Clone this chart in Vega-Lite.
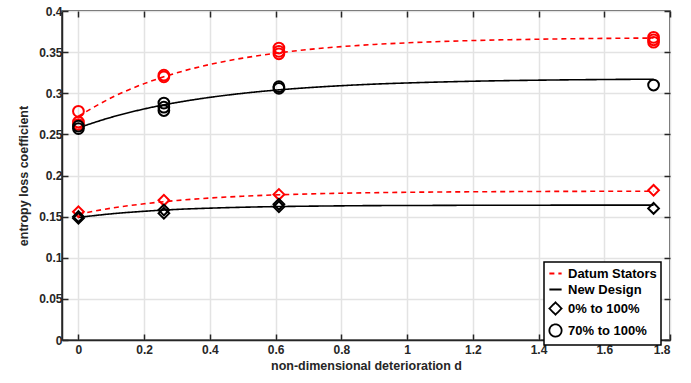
{
  "$schema": "https://vega.github.io/schema/vega-lite/v6.json",
  "autosize": "none",
  "width": 608,
  "height": 329,
  "padding": {"left": 62, "top": 11, "right": 21, "bottom": 43},
  "background": "white",
  "config": {
    "font": "Liberation Sans",
    "view": {"stroke": "#262626", "strokeWidth": 1.5},
    "axis": {
      "labelFont": "Liberation Sans",
      "labelFontWeight": "bold",
      "labelFontSize": 12,
      "labelColor": "#262626",
      "titleFont": "Liberation Sans",
      "titleFontWeight": "bold",
      "titleFontSize": 12.5,
      "titleColor": "#262626",
      "domainColor": "#262626",
      "domainWidth": 1.5,
      "tickColor": "#262626",
      "tickWidth": 1.5,
      "tickSize": -6,
      "gridColor": "#e3e3e3",
      "gridWidth": 1.5,
      "format": "~g"
    },
    "legend": {
      "labelFont": "Liberation Sans",
      "labelFontWeight": "bold",
      "labelFontSize": 13,
      "labelColor": "#000000",
      "strokeColor": "#000000",
      "strokeWidth": 1.5,
      "fillColor": "white",
      "padding": 4,
      "rowPadding": 1,
      "labelOffset": 5,
      "symbolStrokeWidth": 1.8,
      "symbolSize": 150
    }
  },
  "datasets": {
    "fits": [
      {"d": 0, "v": 0.272, "key": "Datum Stators", "range": "70% to 100%"},
      {"d": 0.1, "v": 0.2945, "key": "Datum Stators", "range": "70% to 100%"},
      {"d": 0.2, "v": 0.3117, "key": "Datum Stators", "range": "70% to 100%"},
      {"d": 0.3, "v": 0.3249, "key": "Datum Stators", "range": "70% to 100%"},
      {"d": 0.4, "v": 0.335, "key": "Datum Stators", "range": "70% to 100%"},
      {"d": 0.5, "v": 0.3427, "key": "Datum Stators", "range": "70% to 100%"},
      {"d": 0.6, "v": 0.3486, "key": "Datum Stators", "range": "70% to 100%"},
      {"d": 0.7, "v": 0.3532, "key": "Datum Stators", "range": "70% to 100%"},
      {"d": 0.8, "v": 0.3567, "key": "Datum Stators", "range": "70% to 100%"},
      {"d": 0.9, "v": 0.3593, "key": "Datum Stators", "range": "70% to 100%"},
      {"d": 1.0, "v": 0.3613, "key": "Datum Stators", "range": "70% to 100%"},
      {"d": 1.2, "v": 0.3641, "key": "Datum Stators", "range": "70% to 100%"},
      {"d": 1.4, "v": 0.3657, "key": "Datum Stators", "range": "70% to 100%"},
      {"d": 1.6, "v": 0.3667, "key": "Datum Stators", "range": "70% to 100%"},
      {"d": 1.75, "v": 0.3671, "key": "Datum Stators", "range": "70% to 100%"},

      {"d": 0, "v": 0.258, "key": "New Design", "range": "70% to 100%"},
      {"d": 0.1, "v": 0.2708, "key": "New Design", "range": "70% to 100%"},
      {"d": 0.2, "v": 0.2809, "key": "New Design", "range": "70% to 100%"},
      {"d": 0.3, "v": 0.2888, "key": "New Design", "range": "70% to 100%"},
      {"d": 0.4, "v": 0.295, "key": "New Design", "range": "70% to 100%"},
      {"d": 0.5, "v": 0.2999, "key": "New Design", "range": "70% to 100%"},
      {"d": 0.6, "v": 0.3038, "key": "New Design", "range": "70% to 100%"},
      {"d": 0.7, "v": 0.3068, "key": "New Design", "range": "70% to 100%"},
      {"d": 0.8, "v": 0.3092, "key": "New Design", "range": "70% to 100%"},
      {"d": 0.9, "v": 0.3111, "key": "New Design", "range": "70% to 100%"},
      {"d": 1.0, "v": 0.3125, "key": "New Design", "range": "70% to 100%"},
      {"d": 1.2, "v": 0.3146, "key": "New Design", "range": "70% to 100%"},
      {"d": 1.4, "v": 0.3159, "key": "New Design", "range": "70% to 100%"},
      {"d": 1.6, "v": 0.3167, "key": "New Design", "range": "70% to 100%"},
      {"d": 1.75, "v": 0.3171, "key": "New Design", "range": "70% to 100%"},

      {"d": 0, "v": 0.153, "key": "Datum Stators", "range": "0% to 100%"},
      {"d": 0.1, "v": 0.1603, "key": "Datum Stators", "range": "0% to 100%"},
      {"d": 0.2, "v": 0.1656, "key": "Datum Stators", "range": "0% to 100%"},
      {"d": 0.3, "v": 0.1696, "key": "Datum Stators", "range": "0% to 100%"},
      {"d": 0.4, "v": 0.1726, "key": "Datum Stators", "range": "0% to 100%"},
      {"d": 0.5, "v": 0.1748, "key": "Datum Stators", "range": "0% to 100%"},
      {"d": 0.6, "v": 0.1764, "key": "Datum Stators", "range": "0% to 100%"},
      {"d": 0.7, "v": 0.1776, "key": "Datum Stators", "range": "0% to 100%"},
      {"d": 0.8, "v": 0.1785, "key": "Datum Stators", "range": "0% to 100%"},
      {"d": 0.9, "v": 0.1791, "key": "Datum Stators", "range": "0% to 100%"},
      {"d": 1.0, "v": 0.1796, "key": "Datum Stators", "range": "0% to 100%"},
      {"d": 1.2, "v": 0.1802, "key": "Datum Stators", "range": "0% to 100%"},
      {"d": 1.4, "v": 0.1806, "key": "Datum Stators", "range": "0% to 100%"},
      {"d": 1.6, "v": 0.1808, "key": "Datum Stators", "range": "0% to 100%"},
      {"d": 1.75, "v": 0.1809, "key": "Datum Stators", "range": "0% to 100%"},

      {"d": 0, "v": 0.149, "key": "New Design", "range": "0% to 100%"},
      {"d": 0.1, "v": 0.1534, "key": "New Design", "range": "0% to 100%"},
      {"d": 0.2, "v": 0.1565, "key": "New Design", "range": "0% to 100%"},
      {"d": 0.3, "v": 0.1588, "key": "New Design", "range": "0% to 100%"},
      {"d": 0.4, "v": 0.1603, "key": "New Design", "range": "0% to 100%"},
      {"d": 0.5, "v": 0.1614, "key": "New Design", "range": "0% to 100%"},
      {"d": 0.6, "v": 0.1622, "key": "New Design", "range": "0% to 100%"},
      {"d": 0.7, "v": 0.1627, "key": "New Design", "range": "0% to 100%"},
      {"d": 0.8, "v": 0.1631, "key": "New Design", "range": "0% to 100%"},
      {"d": 0.9, "v": 0.1634, "key": "New Design", "range": "0% to 100%"},
      {"d": 1.0, "v": 0.1635, "key": "New Design", "range": "0% to 100%"},
      {"d": 1.2, "v": 0.1638, "key": "New Design", "range": "0% to 100%"},
      {"d": 1.4, "v": 0.1639, "key": "New Design", "range": "0% to 100%"},
      {"d": 1.6, "v": 0.164, "key": "New Design", "range": "0% to 100%"},
      {"d": 1.75, "v": 0.164, "key": "New Design", "range": "0% to 100%"}
    ],
    "obs": [
      {"d": 0, "v": 0.278, "series": "Datum Stators", "key": "70% to 100%"},
      {"d": 0, "v": 0.265, "series": "Datum Stators", "key": "70% to 100%"},
      {"d": 0, "v": 0.262, "series": "Datum Stators", "key": "70% to 100%"},
      {"d": 0.26, "v": 0.322, "series": "Datum Stators", "key": "70% to 100%"},
      {"d": 0.26, "v": 0.320, "series": "Datum Stators", "key": "70% to 100%"},
      {"d": 0.61, "v": 0.355, "series": "Datum Stators", "key": "70% to 100%"},
      {"d": 0.61, "v": 0.351, "series": "Datum Stators", "key": "70% to 100%"},
      {"d": 0.61, "v": 0.348, "series": "Datum Stators", "key": "70% to 100%"},
      {"d": 1.75, "v": 0.368, "series": "Datum Stators", "key": "70% to 100%"},
      {"d": 1.75, "v": 0.365, "series": "Datum Stators", "key": "70% to 100%"},
      {"d": 1.75, "v": 0.362, "series": "Datum Stators", "key": "70% to 100%"},

      {"d": 0, "v": 0.260, "series": "New Design", "key": "70% to 100%"},
      {"d": 0, "v": 0.257, "series": "New Design", "key": "70% to 100%"},
      {"d": 0.26, "v": 0.288, "series": "New Design", "key": "70% to 100%"},
      {"d": 0.26, "v": 0.283, "series": "New Design", "key": "70% to 100%"},
      {"d": 0.26, "v": 0.279, "series": "New Design", "key": "70% to 100%"},
      {"d": 0.61, "v": 0.308, "series": "New Design", "key": "70% to 100%"},
      {"d": 0.61, "v": 0.306, "series": "New Design", "key": "70% to 100%"},
      {"d": 1.75, "v": 0.310, "series": "New Design", "key": "70% to 100%"},

      {"d": 0, "v": 0.156, "series": "Datum Stators", "key": "0% to 100%"},
      {"d": 0.26, "v": 0.170, "series": "Datum Stators", "key": "0% to 100%"},
      {"d": 0.61, "v": 0.177, "series": "Datum Stators", "key": "0% to 100%"},
      {"d": 1.75, "v": 0.182, "series": "Datum Stators", "key": "0% to 100%"},

      {"d": 0, "v": 0.150, "series": "New Design", "key": "0% to 100%"},
      {"d": 0, "v": 0.148, "series": "New Design", "key": "0% to 100%"},
      {"d": 0.26, "v": 0.158, "series": "New Design", "key": "0% to 100%"},
      {"d": 0.26, "v": 0.154, "series": "New Design", "key": "0% to 100%"},
      {"d": 0.61, "v": 0.165, "series": "New Design", "key": "0% to 100%"},
      {"d": 0.61, "v": 0.162, "series": "New Design", "key": "0% to 100%"},
      {"d": 1.75, "v": 0.160, "series": "New Design", "key": "0% to 100%"}
    ]
  },
  "layer": [
    {
      "data": {"name": "fits"},
      "mark": {"type": "line", "strokeWidth": 1.6, "interpolate": "monotone"},
      "encoding": {
        "x": {
          "field": "d", "type": "quantitative",
          "scale": {"domain": [-0.05, 1.8], "nice": false, "zero": false},
          "axis": {
            "values": [0, 0.2, 0.4, 0.6, 0.8, 1, 1.2, 1.4, 1.6, 1.8],
            "title": "non-dimensional deterioration  d",
            "labelPadding": 10,
            "titlePadding": 4
          }
        },
        "y": {
          "field": "v", "type": "quantitative",
          "scale": {"domain": [0, 0.4], "nice": false},
          "axis": {
            "values": [0, 0.05, 0.1, 0.15, 0.2, 0.25, 0.3, 0.35, 0.4],
            "title": "entropy loss coefficient",
            "labelPadding": 6,
            "titlePadding": 8
          }
        },
        "color": {
          "field": "key", "type": "nominal",
          "scale": {
            "domain": ["Datum Stators", "New Design", "0% to 100%", "70% to 100%"],
            "range": ["#ff0000", "#000000", "#000000", "#000000"]
          },
          "legend": {"title": null, "orient": "none", "legendX": 482, "legendY": 251}
        },
        "strokeDash": {
          "field": "key", "type": "nominal",
          "scale": {
            "domain": ["Datum Stators", "New Design", "0% to 100%", "70% to 100%"],
            "range": [[5, 4], [1, 0], [1, 0], [1, 0]]
          },
          "legend": {"title": null, "orient": "none", "legendX": 482, "legendY": 251}
        },
        "detail": {"field": "range", "type": "nominal"}
      }
    },
    {
      "data": {"name": "obs"},
      "mark": {"type": "point", "filled": false, "strokeWidth": 2, "size": 115, "opacity": 1},
      "encoding": {
        "x": {
          "field": "d", "type": "quantitative",
          "axis": {"orient": "top", "values": [0, 0.2, 0.4, 0.6, 0.8, 1, 1.2, 1.4, 1.6, 1.8], "labels": false, "title": null, "grid": false, "domain": false}
        },
        "y": {
          "field": "v", "type": "quantitative",
          "axis": {"orient": "right", "values": [0, 0.05, 0.1, 0.15, 0.2, 0.25, 0.3, 0.35, 0.4], "labels": false, "title": null, "grid": false, "domain": false}
        },
        "shape": {
          "field": "key", "type": "nominal",
          "scale": {
            "domain": ["Datum Stators", "New Design", "0% to 100%", "70% to 100%"],
            "range": ["stroke", "stroke", "diamond", "circle"]
          },
          "legend": {"title": null, "orient": "none", "legendX": 482, "legendY": 251}
        },
        "stroke": {
          "field": "series", "type": "nominal",
          "scale": {"domain": ["Datum Stators", "New Design"], "range": ["#ff0000", "#000000"]},
          "legend": null
        }
      }
    }
  ],
  "resolve": {"axis": {"x": "independent", "y": "independent"}}
}
